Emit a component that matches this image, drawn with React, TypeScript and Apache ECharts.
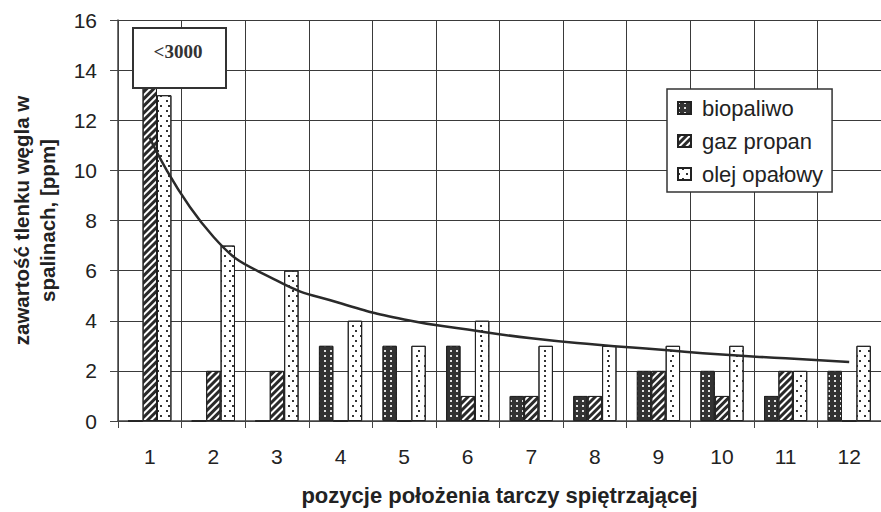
import React, { useEffect, useRef } from "react";
import * as echarts from "echarts";

const categories = ["1", "2", "3", "4", "5", "6", "7", "8", "9", "10", "11", "12"];
const biopaliwo = [0, 0, 0, 3, 3, 3, 1, 1, 2, 2, 1, 2];
// position 1 of "gaz propan" runs off-scale (<3000), its top hidden under the label box
const gazPropan = [14, 2, 2, 0, 0, 1, 1, 1, 2, 1, 2, 0];
const olejOpalowy = [13, 7, 6, 4, 3, 4, 3, 3, 3, 3, 2, 3];
const trendLine = [11.3, 7.35, 5.6, 4.7, 4.05, 3.65, 3.3, 3.05, 2.85, 2.65, 2.5, 2.35];
const yTicks = { min: 0, max: 16, interval: 2 };

const FONT = "'Liberation Sans', Arial, sans-serif";
const TXT = "#222";

export default function App() {
  const ref = useRef<HTMLDivElement>(null);
  useEffect(() => {
    if (!ref.current) return;
    const chart = echarts.init(ref.current, undefined, { renderer: "svg" });
    const barBase = {
      type: "bar" as const,
      barGap: "0%",
      barCategoryGap: "32%",
      clip: true,
    };
    chart.setOption({
      animation: false,
      backgroundColor: "#fff",
      grid: { left: 118, top: 20, bottom: 91, right: -8, containLabel: false },
      legend: {
        orient: "vertical",
        left: 667,
        top: 89,
        padding: [8, 9, 7, 10],
        itemGap: 11,
        itemWidth: 13,
        itemHeight: 12,
        borderColor: "#333",
        borderWidth: 1.5,
        backgroundColor: "#fff",
        icon: "rect",
        textStyle: { fontFamily: FONT, fontSize: 22, color: TXT, padding: [0, 0, 0, 6] },
        data: ["biopaliwo", "gaz propan", "olej opałowy"],
      },
      xAxis: {
        type: "category",
        data: categories,
        boundaryGap: true,
        axisLine: { lineStyle: { color: "#444", width: 1.5 } },
        axisTick: { show: true, length: 7, inside: false, lineStyle: { color: "#444" } },
        axisLabel: { fontFamily: FONT, fontSize: 21, color: TXT, margin: 25 },
        splitLine: { show: true, lineStyle: { color: "#3a3a3a", width: 1 } },
        name: "pozycje położenia tarczy spiętrzającej",
        nameLocation: "middle",
        nameGap: 63,
        nameTextStyle: { fontFamily: FONT, fontSize: 22, fontWeight: "bold", color: TXT },
      },
      yAxis: {
        type: "value",
        min: yTicks.min,
        max: yTicks.max,
        interval: yTicks.interval,
        axisLine: { show: true, lineStyle: { color: "#444", width: 1.5 } },
        axisTick: { show: true, length: 8, inside: false, lineStyle: { color: "#444" } },
        axisLabel: { fontFamily: FONT, fontSize: 21, color: TXT, margin: 21 },
        splitLine: { show: true, lineStyle: { color: "#3a3a3a", width: 1 } },
        name: "zawartość tlenku węgla w\nspalinach, [ppm]",
        nameLocation: "middle",
        nameGap: 58,
        nameRotate: 90,
        nameTextStyle: { fontFamily: FONT, fontSize: 20.5, fontWeight: "bold", color: TXT, lineHeight: 26 },
      },
      series: [
        {
          ...barBase,
          name: "biopaliwo",
          data: biopaliwo,
          itemStyle: {
            color: "#333",
            borderColor: "#222",
            borderWidth: 1,
            decal: {
              symbol: "rect",
              symbolSize: 1,
              color: "rgba(255,255,255,0.85)",
              dashArrayX: [1.4, 3.3],
              dashArrayY: [1.4, 2.9],
            },
          },
        },
        {
          ...barBase,
          name: "gaz propan",
          data: gazPropan,
          itemStyle: {
            color: "#fff",
            borderColor: "#222",
            borderWidth: 1,
            decal: {
              symbol: "rect",
              symbolSize: 1,
              color: "#2a2a2a",
              dashArrayX: [1, 0],
              dashArrayY: [2.4, 1.5],
              rotation: -Math.PI / 4,
            },
          },
        },
        {
          ...barBase,
          name: "olej opałowy",
          data: olejOpalowy,
          itemStyle: {
            color: "#fff",
            borderColor: "#222",
            borderWidth: 1,
            decal: {
              symbol: "rect",
              symbolSize: 1,
              color: "#333",
              dashArrayX: [[1.3, 5.7], [0, 3.5, 1.3, 2.2]],
              dashArrayY: [1.3, 2.8],
            },
          },
        },
        {
          type: "line",
          name: "trend",
          data: trendLine,
          smooth: true,
          showSymbol: false,
          symbol: "none",
          lineStyle: { color: "#2a2a2a", width: 2.5 },
          z: 5,
        },
      ],
      graphic: [
        {
          type: "rect",
          shape: { x: 133, y: 28, width: 93, height: 60 },
          style: { fill: "#fff", stroke: "#333", lineWidth: 2 },
          z: 100,
        },
        {
          type: "text",
          x: 178,
          y: 51,
          style: {
            text: "<3000",
            fontFamily: "'Liberation Serif', 'Times New Roman', serif",
            fontSize: 19,
            fontWeight: "bold",
            fill: "#333",
            align: "center",
            verticalAlign: "middle",
          },
          z: 101,
        },
      ],
    });
    return () => chart.dispose();
  }, []);
  return (
    <div
      ref={ref}
      style={{ position: "fixed", left: 0, top: 0, width: 881, height: 512, background: "#fff" }}
    />
  );
}
